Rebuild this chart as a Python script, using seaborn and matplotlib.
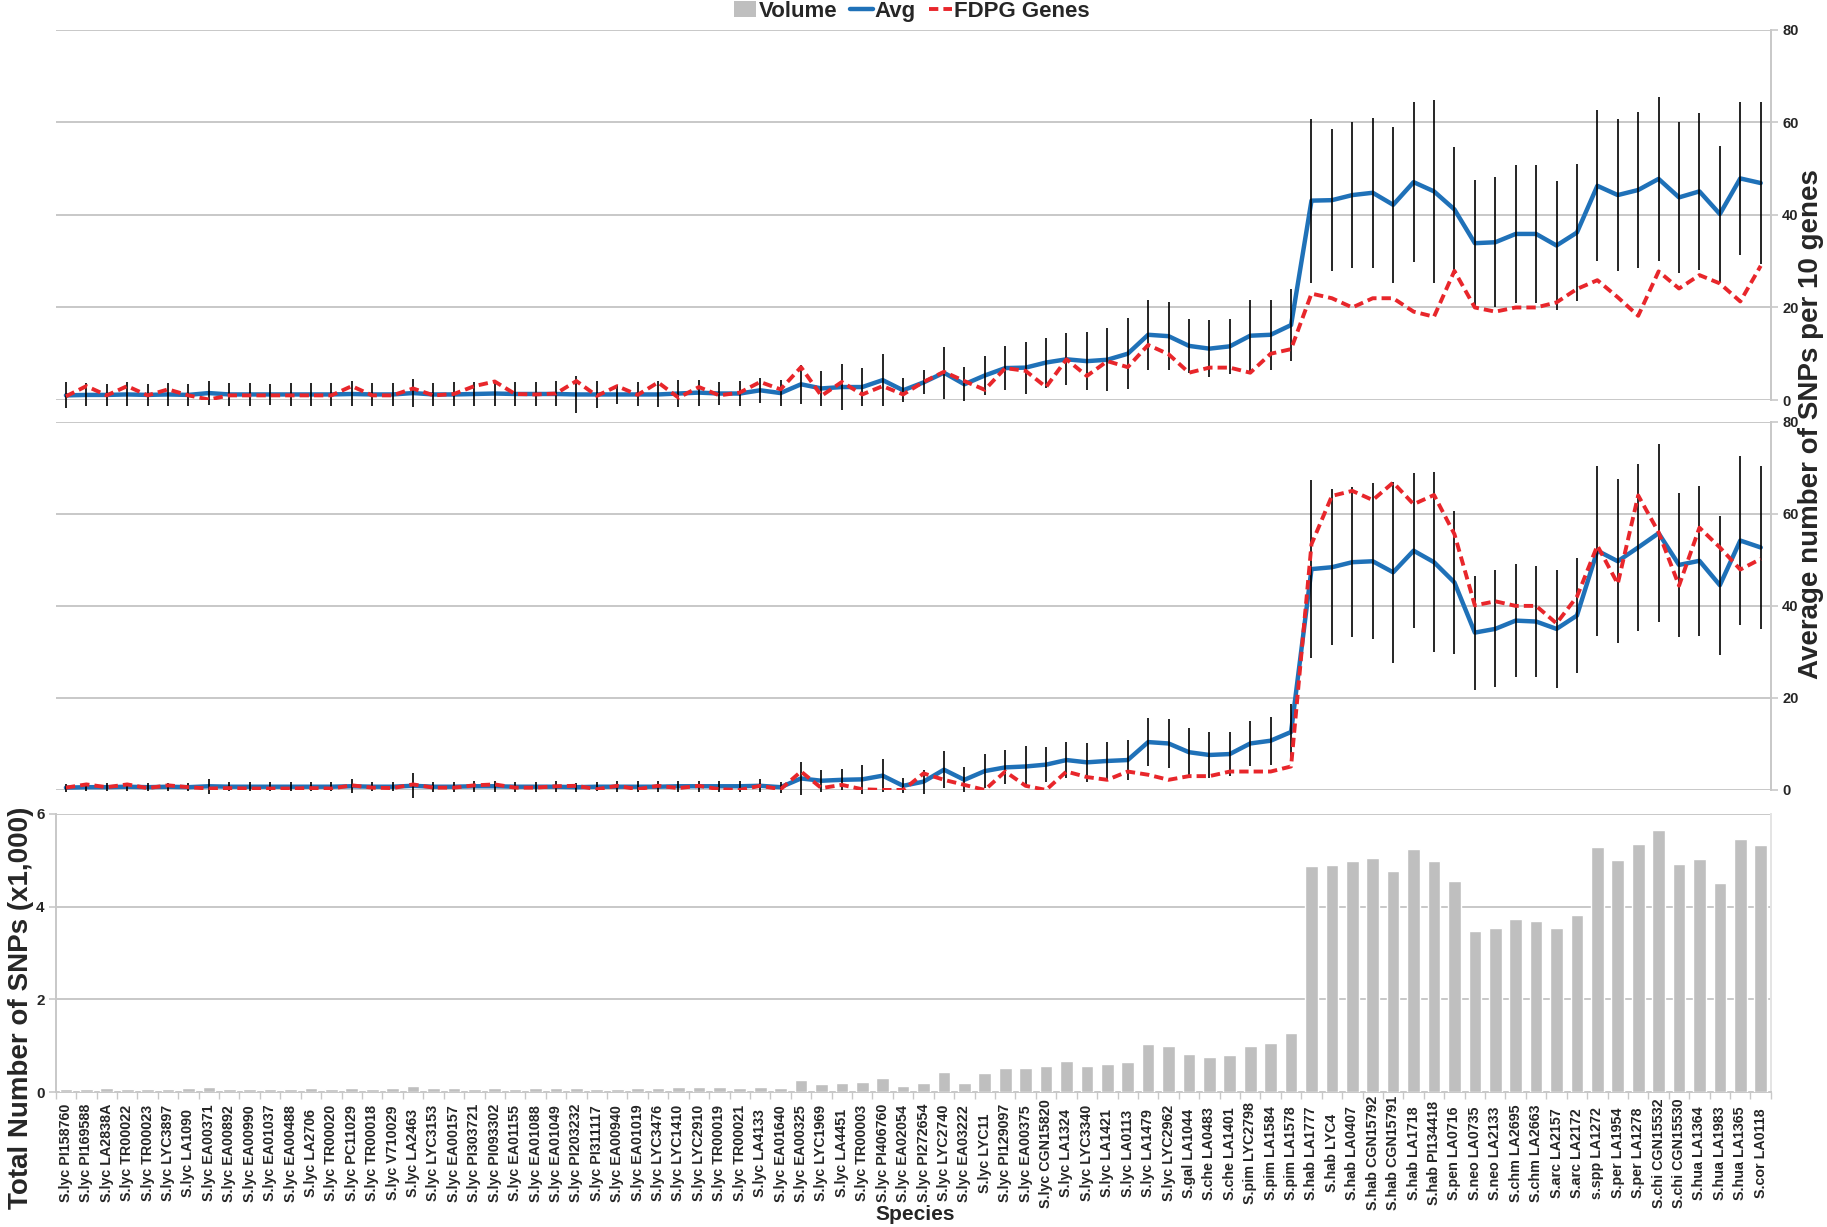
import numpy as np
import pandas as pd
import matplotlib
matplotlib.use("Agg")
import matplotlib.pyplot as plt
import seaborn as sns
from matplotlib.lines import Line2D
from matplotlib.patches import Patch

species = [
    "S.lyc PI158760", "S.lyc PI169588", "S.lyc LA2838A", "S.lyc TR00022", "S.lyc TR00023",
    "S.lyc LYC3897", "S.lyc LA1090", "S.lyc EA00371", "S.lyc EA00892", "S.lyc EA00990",
    "S.lyc EA01037", "S.lyc EA00488", "S.lyc LA2706", "S.lyc TR00020", "S.lyc PC11029",
    "S.lyc TR00018", "S.lyc V710029", "S.lyc LA2463", "S.lyc LYC3153", "S.lyc EA00157",
    "S.lyc PI303721", "S.lyc PI093302", "S.lyc EA01155", "S.lyc EA01088", "S.lyc EA01049",
    "S.lyc PI203232", "S.lyc PI311117", "S.lyc EA00940", "S.lyc EA01019", "S.lyc LYC3476",
    "S.lyc LYC1410", "S.lyc LYC2910", "S.lyc TR00019", "S.lyc TR00021", "S.lyc LA4133",
    "S.lyc EA01640", "S.lyc EA00325", "S.lyc LYC1969", "S.lyc LA4451", "S.lyc TR00003",
    "S.lyc PI406760", "S.lyc EA02054", "S.lyc PI272654", "S.lyc LYC2740", "S.lyc EA03222",
    "S.lyc LYC11", "S.lyc PI129097", "S.lyc EA00375", "S.lyc CGN15820", "S.lyc LA1324",
    "S.lyc LYC3340", "S.lyc LA1421", "S.lyc LA0113", "S.lyc LA1479", "S.lyc LYC2962",
    "S.gal LA1044", "S.che LA0483", "S.che LA1401", "S.pim LYC2798", "S.pim LA1584",
    "S.pim LA1578", "S.hab LA1777", "S.hab LYC4", "S.hab LA0407", "S.hab CGN15792",
    "S.hab CGN15791", "S.hab LA1718", "S.hab PI134418", "S.pen LA0716", "S.neo LA0735",
    "S.neo LA2133", "S.chm LA2695", "S.chm LA2663", "S.arc LA2157", "S.arc LA2172",
    "s.spp LA1272", "S.per LA1954", "S.per LA1278", "S.chi CGN15532", "S.chi CGN15530",
    "S.hua LA1364", "S.hua LA1983", "S.hua LA1365", "S.cor LA0118",
]

# total SNPs (x1,000)
volume = [
    0.06, 0.06, 0.09, 0.06, 0.06, 0.06, 0.08, 0.11, 0.07, 0.06,
    0.07, 0.07, 0.08, 0.07, 0.08, 0.07, 0.09, 0.13, 0.08, 0.08,
    0.06, 0.08, 0.07, 0.08, 0.08, 0.08, 0.07, 0.07, 0.08, 0.08,
    0.10, 0.10, 0.10, 0.09, 0.10, 0.09, 0.25, 0.17, 0.20, 0.22,
    0.30, 0.12, 0.20, 0.43, 0.19, 0.40, 0.52, 0.52, 0.56, 0.67,
    0.57, 0.60, 0.64, 1.03, 1.00, 0.82, 0.76, 0.80, 1.00, 1.06,
    1.27, 4.87, 4.89, 4.99, 5.04, 4.78, 5.25, 4.99, 4.56, 3.47,
    3.55, 3.73, 3.70, 3.55, 3.82, 5.28, 5.01, 5.36, 5.66, 4.93,
    5.03, 4.52, 5.47, 5.34,
]

# upper panel
top_avg = [
    1.0, 1.1, 1.1, 1.2, 1.1, 1.2, 1.1, 1.5, 1.2, 1.2,
    1.2, 1.2, 1.2, 1.2, 1.3, 1.2, 1.2, 1.5, 1.2, 1.2,
    1.3, 1.4, 1.3, 1.3, 1.3, 1.2, 1.2, 1.2, 1.2, 1.2,
    1.4, 1.6, 1.4, 1.4, 2.1, 1.5, 3.4, 2.5, 2.8, 2.8,
    4.3, 2.1, 3.8, 5.9, 3.4, 5.3, 6.9, 7.0, 8.1, 8.8,
    8.4, 8.7, 10.0, 14.1, 13.8, 11.7, 11.1, 11.6, 13.9, 14.1,
    16.2, 43.1, 43.2, 44.3, 44.8, 42.2, 47.1, 45.1, 41.2, 33.9,
    34.1, 35.9, 35.9, 33.4, 36.2, 46.3, 44.3, 45.4, 47.8, 43.8,
    45.1, 40.2, 47.9, 46.9,
]
top_err = [
    2.8, 2.5, 2.4, 2.6, 2.4, 2.5, 2.3, 2.6, 2.4, 2.4,
    2.3, 2.4, 2.4, 2.5, 2.7, 2.5, 2.4, 3.0, 2.5, 2.6,
    2.6, 2.7, 2.6, 2.6, 2.7, 4.0, 2.9, 2.0, 2.6, 2.8,
    2.9, 2.8, 2.5, 2.6, 2.7, 2.8, 4.2, 3.8, 4.9, 4.2,
    5.7, 2.6, 2.6, 5.6, 3.7, 4.2, 4.8, 5.6, 5.4, 5.6,
    6.3, 6.8, 7.7, 7.6, 7.4, 5.9, 6.2, 5.9, 7.8, 7.6,
    7.8, 17.7, 15.3, 15.8, 16.2, 16.9, 17.3, 19.8, 13.5, 13.7,
    14.1, 14.9, 14.9, 14.0, 14.8, 16.3, 16.5, 16.8, 17.7, 16.4,
    16.9, 14.7, 16.5, 17.5,
]
top_fdpg = [
    0.8, 3.0, 1.0, 3.0, 1.0, 2.3, 1.0, 0.1, 1.0, 1.0,
    1.0, 1.0, 1.0, 1.0, 3.0, 1.0, 1.0, 2.5, 1.0, 1.3,
    3.0, 4.0, 1.3, 1.2, 1.4, 4.1, 0.9, 3.0, 1.1, 3.8,
    0.5, 2.8, 1.0, 1.6, 3.9, 2.3, 7.1, 0.9, 3.9, 1.2,
    3.0, 1.2, 3.9, 6.1, 4.1, 2.2, 6.9, 6.3, 2.8, 8.8,
    5.2, 8.4, 7.1, 11.9, 9.9, 5.9, 7.0, 7.0, 5.9, 10.0,
    11.0, 23.0, 22.0, 20.0, 22.0, 22.0, 19.1, 18.0, 27.9, 20.0,
    19.1, 20.0, 20.0, 21.1, 24.0, 25.9, 22.2, 18.2, 27.8, 24.1,
    27.0, 25.2, 21.3, 29.0,
]

# middle panel
mid_avg = [
    0.5, 0.6, 0.6, 0.7, 0.6, 0.7, 0.6, 0.8, 0.7, 0.7,
    0.7, 0.7, 0.7, 0.7, 0.8, 0.7, 0.7, 0.9, 0.7, 0.7,
    0.8, 0.8, 0.7, 0.7, 0.7, 0.6, 0.7, 0.7, 0.7, 0.7,
    0.8, 0.8, 0.8, 0.8, 0.9, 0.6, 2.5, 2.0, 2.2, 2.3,
    3.1, 0.9, 1.8, 4.4, 2.2, 4.1, 4.9, 5.1, 5.5, 6.5,
    6.0, 6.3, 6.5, 10.4, 10.1, 8.2, 7.6, 7.8, 10.1, 10.7,
    12.6, 48.0, 48.4, 49.5, 49.7, 47.3, 52.0, 49.5, 45.1, 34.2,
    35.0, 36.8, 36.6, 35.0, 37.9, 52.0, 49.7, 52.7, 55.8, 48.9,
    49.8, 44.5, 54.2, 52.7,
]
mid_err = [
    0.9, 0.9, 0.9, 0.9, 0.9, 0.9, 0.9, 1.6, 1.0, 1.0,
    1.0, 1.0, 1.0, 1.0, 1.5, 1.0, 1.0, 2.7, 1.1, 1.1,
    1.2, 1.2, 1.1, 1.1, 1.2, 1.0, 1.0, 1.2, 1.2, 1.2,
    1.2, 1.2, 1.2, 1.2, 1.4, 1.2, 3.5, 2.4, 2.3, 3.1,
    3.6, 1.6, 2.6, 4.0, 2.7, 3.7, 3.7, 4.4, 3.8, 4.0,
    4.2, 4.2, 4.3, 5.2, 5.4, 5.2, 5.0, 4.7, 4.9, 5.2,
    6.1, 19.4, 16.9, 16.3, 16.9, 19.7, 16.8, 19.6, 15.5, 12.4,
    12.7, 12.3, 12.1, 12.9, 12.5, 18.5, 17.8, 18.2, 19.4, 15.7,
    16.3, 15.1, 18.4, 17.8,
]
mid_fdpg = [
    0.5, 1.2, 0.6, 1.2, 0.4, 1.0, 0.6, 0.3, 0.4, 0.3,
    0.3, 0.3, 0.4, 0.3, 1.0, 0.5, 0.4, 1.2, 0.5, 0.5,
    1.0, 1.2, 0.5, 0.5, 0.8, 0.9, 0.15, 0.9, 0.15, 0.9,
    0.4, 0.9, 0.15, 0.0, 0.9, 0.15, 4.0, 0.4, 1.1, 0.15,
    0.0, 0.0, 3.6, 2.2, 1.1, 0.0, 4.0, 0.9, 0.0, 4.0,
    2.8, 2.2, 4.0, 3.3, 2.2, 3.0, 3.0, 4.0, 4.0, 4.0,
    5.1, 53.4, 63.9, 65.0, 63.0, 66.8, 62.1, 64.1, 55.6, 40.1,
    41.0, 40.0, 40.0, 36.2, 42.0, 53.1, 44.8, 64.0, 56.0, 44.4,
    57.0, 52.7, 47.9, 50.2,
]

BLUE = "#1f71b8"
RED = "#e8262b"
GREY = "#bfbfbf"
GRID = "#c8c8c8"

sns.set_theme(style="white")
plt.rcParams["font.family"] = ["Liberation Sans", "DejaVu Sans"]
plt.rcParams["font.weight"] = "bold"

fig = plt.figure(figsize=(18.27, 12.27), dpi=100)
left, width = 0.0305, 0.9388
ax1 = fig.add_axes([left, 0.674, width, 0.3016])
ax2 = fig.add_axes([left, 0.3562, width, 0.300])
ax3 = fig.add_axes([left, 0.110, width, 0.2266])

pos = np.arange(len(species))
n = len(species)


def line_panel(ax, avg, err, fdpg):
    df = pd.DataFrame({"pos": pos, "avg": avg, "fdpg": fdpg})
    sns.lineplot(data=df, x="pos", y="avg", color=BLUE, lw=3.2, ax=ax, zorder=2)
    eb = ax.errorbar(pos, avg, yerr=err, fmt="none", ecolor="black",
                     elinewidth=1.2, capsize=0, zorder=3)
    for c in eb.lines[2]:
        c.set_clip_on(False)
    sns.lineplot(data=df, x="pos", y="fdpg", color=RED, lw=2.8,
                 linestyle=(0, (2.4, 1.3)), ax=ax, zorder=4)
    ax.set_xlim(-0.5, n - 0.5)
    ax.set_ylim(0, 80)
    ax.set_yticks([0, 20, 40, 60, 80])
    ax.yaxis.tick_right()
    ax.grid(axis="y", color=GRID, lw=1.4)
    ax.grid(axis="x", visible=False)
    for s in ["left", "top", "bottom"]:
        ax.spines[s].set_visible(False)
    ax.spines["right"].set_color(GRID)
    ax.spines["right"].set_linewidth(1.4)
    ax.set_xticks([])
    ax.set(xlabel="", ylabel="")
    ax.tick_params(axis="y", right=True, length=5, width=1.2, color=GRID,
                   pad=3, labelsize=10.5)


line_panel(ax1, top_avg, top_err, top_fdpg)
line_panel(ax2, mid_avg, mid_err, mid_fdpg)

bars = pd.DataFrame({"species": species, "volume": volume})
sns.barplot(data=bars, x="species", y="volume", color=GREY, saturation=1,
            width=0.62, ax=ax3, zorder=3)
ax3.set_xlim(-0.5, n - 0.5)
ax3.set_ylim(0, 6)
ax3.set_yticks([0, 2, 4, 6])
ax3.grid(axis="y", color=GRID, lw=1.4, zorder=0)
ax3.grid(axis="x", visible=False)
ax3.set_axisbelow(True)
ax3.spines["top"].set_visible(False)
for s in ["left", "bottom", "right"]:
    ax3.spines[s].set_color(GRID)
    ax3.spines[s].set_linewidth(1.4)
ax3.spines["right"].set_color("#e4e4e4")
ax3.set(xlabel="", ylabel="")
ax3.set_xticks(pos)
ax3.set_xticklabels(species, rotation=90, va="center", ha="center",
                    fontsize=10.3, fontweight="bold")
ax3.set_xticks(np.arange(-0.5, n, 1), minor=True)
ax3.tick_params(axis="x", which="major", length=0, pad=44)
ax3.tick_params(axis="x", which="minor", bottom=True, length=5, width=1,
                color=GRID, direction="out")
ax3.tick_params(axis="y", left=True, length=5, width=1.2, color=GRID,
                pad=3, labelsize=11)

fig.text(0.0115, 0.1785, "Total Number of SNPs (x1,000)", rotation=90,
         ha="center", va="center", fontsize=20, fontweight="bold")
fig.text(0.9915, 0.6545, "Average number of SNPs per 10 genes", rotation=90,
         ha="center", va="center", fontsize=20, fontweight="bold")
fig.text(0.501, 0.0098, "Species", ha="center", va="center",
         fontsize=15, fontweight="bold")

handles = [
    Patch(facecolor=GREY, edgecolor="none", label="Volume"),
    Line2D([], [], color=BLUE, lw=3.2, label="Avg"),
    Line2D([], [], color=RED, lw=2.8, linestyle=(0, (2.4, 1.3)), label="FDPG Genes"),
]
fig.legend(handles=handles, loc="center", bbox_to_anchor=(0.499, 0.991), ncol=3,
           frameon=False, handlelength=1.0, handletextpad=0.1, columnspacing=0.6,
           prop={"weight": "bold", "size": 16})

fig.savefig("out.png", dpi=100)
